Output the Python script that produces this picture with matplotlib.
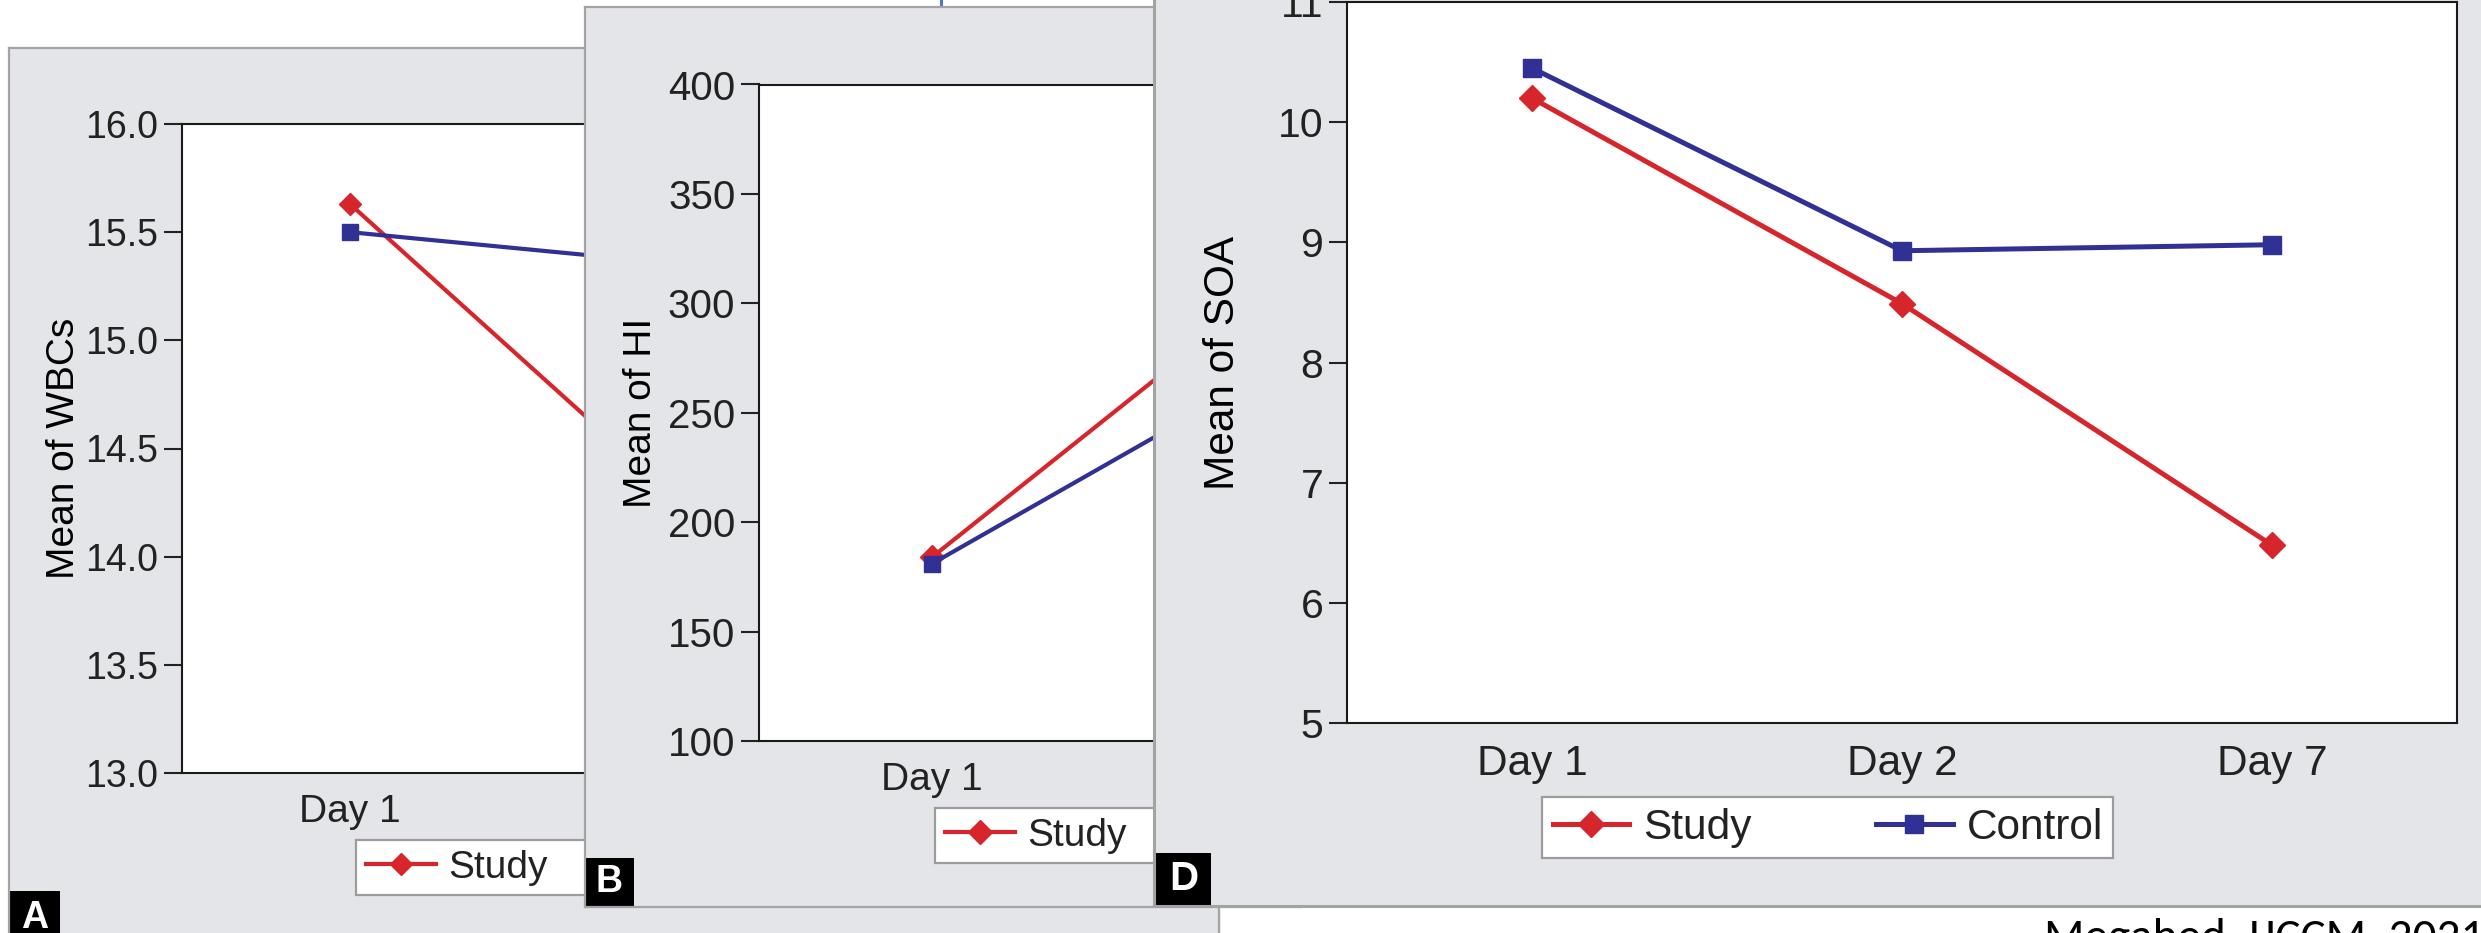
import matplotlib
matplotlib.use("Agg")
from matplotlib import pyplot as plt
from matplotlib import font_manager
from matplotlib.patches import Rectangle
from matplotlib.lines import Line2D

# dane (Day 7 w panelach A i B jest zasłonięty, wartości szacunkowe)
days = ["Day 1", "Day 2", "Day 7"]
wbc_study = [15.63, 14.23, 13.90]
wbc_control = [15.50, 15.35, 15.20]
hi_study = [184, 310, 285]
hi_control = [181, 271, 262]
soa_study = [10.20, 8.49, 6.48]
soa_control = [10.45, 8.93, 8.98]
series_names = ["Study", "Control"]
caption = "Megahed, IJCCM, 2021"

W, H = 2481, 933
RED = "#d7262b"
BLUE = "#303095"
PANEL = "#e4e5e8"
EDGE = "#a3a3a3"
INK = "#222222"

plt.rcParams["font.family"] = ["Liberation Sans", "DejaVu Sans"]
plt.rcParams["text.color"] = INK

names = {f.name for f in font_manager.fontManager.ttflist}
cap_font = "Carlito" if "Carlito" in names else "Lato"


def box(x0, y0, x1, y1):
    # piksele (od góry) -> współrzędne figury
    return [x0 / W, 1 - y1 / H, (x1 - x0) / W, (y1 - y0) / H]


def panel_bg(fig, x0, y0, x1, y1, z, lw=1.6):
    bg = fig.add_axes(box(x0, y0, x1, y1))
    bg.set_facecolor(PANEL)
    bg.set_xticks([])
    bg.set_yticks([])
    for s in bg.spines.values():
        s.set_color(EDGE)
        s.set_linewidth(lw)
    bg.set_zorder(z)
    return bg


def tag(fig, bg, letter, x0, y0, x1, y1, fs):
    r = Rectangle((x0 / W, 1 - y1 / H), (x1 - x0) / W, (y1 - y0) / H,
                  transform=fig.transFigure, facecolor="black", edgecolor="none", clip_on=False)
    bg.add_artist(r)
    bg.text((x0 + x1) / 2 / W, 1 - (y0 + y1) / 2 / H, letter, transform=fig.transFigure,
            color="white", fontweight="bold", fontsize=fs, ha="center", va="center", clip_on=False)


def line_plot(fig, rect, z, study, control, ylim, yticks, yfmt, ylabel, label_x,
              fs_tick, fs_lab, lw, ms, leg_xy):
    ax = fig.add_axes(box(*rect))
    ax.set_zorder(z)
    x = [0.5, 1.5, 2.5]
    ax.plot(x, study, color=RED, lw=lw, marker="D", ms=ms * 0.98, label=series_names[0])
    ax.plot(x, control, color=BLUE, lw=lw, marker="s", ms=ms, label=series_names[1])
    ax.set_xlim(0, 3)
    ax.set_ylim(*ylim)
    ax.set_xticks(x)
    ax.set_xticklabels(days)
    ax.set_yticks(yticks)
    ax.set_yticklabels([yfmt.format(v) for v in yticks])
    ax.tick_params(axis="x", length=0, pad=15, labelsize=fs_lab, colors=INK)
    ax.tick_params(axis="y", length=13, width=1.5, pad=4, labelsize=fs_tick,
                   direction="out", colors=INK)
    for s in ax.spines.values():
        s.set_color("#1a1a1a")
        s.set_linewidth(1.5)
    ax.set_ylabel(ylabel, fontsize=fs_lab)
    ax.yaxis.label.set_va("center")
    x0, y0, x1, y1 = rect
    ax.yaxis.set_label_coords((label_x - x0) / (x1 - x0), 0.5)
    ax.legend(loc="upper left", bbox_to_anchor=(leg_xy[0] / W, 1 - leg_xy[1] / H),
              bbox_transform=fig.transFigure, ncol=2, fontsize=fs_lab, frameon=True,
              fancybox=False, edgecolor="#9c9c9c", framealpha=1, borderaxespad=0,
              borderpad=0.25, handletextpad=0.33, columnspacing=2.95, handlelength=1.8)
    ax.get_legend().get_frame().set_linewidth(1.6)
    return ax


fig = plt.figure(figsize=(W / 100, H / 100), dpi=100)

# panel C (prawie całkowicie zasłonięty)
panel_bg(fig, 300, 912, 1219, 1000, 1)

# panel A
bgA = panel_bg(fig, 9, 48, 1219, 1000, 2)
tag(fig, bgA, "A", 10, 891, 60, 945, 27)
line_plot(fig, (182, 124, 1190, 773), 3, wbc_study, wbc_control, (13, 16),
          [13.0, 13.5, 14.0, 14.5, 15.0, 15.5, 16.0], "{:.1f}", "Mean of WBCs", 64,
          27, 28, 3.0, 11.5, (356, 840))

# panel B
bgB = panel_bg(fig, 585, 7, 1300, 907, 4)
tag(fig, bgB, "B", 585, 858, 634, 906, 27)
line_plot(fig, (759, 84.5, 1797, 741), 5, hi_study, hi_control, (100, 400),
          [100, 150, 200, 250, 300, 350, 400], "{:.0f}", "Mean of HI", 641,
          29, 28, 3.0, 12, (935, 808))

# panel D
bgD = panel_bg(fig, 1154, -30, 2520, 906, 6, lw=2.2)
tag(fig, bgD, "D", 1156, 853, 1211, 905, 29)
line_plot(fig, (1347, 2, 2457, 723), 7, soa_study, soa_control, (5, 11),
          [5, 6, 7, 8, 9, 10, 11], "{:.0f}", "Mean of SOA", 1223,
          29.5, 30.5, 3.6, 13, (1542, 797))

# obcięty podpis i fragment niebieskiego tekstu u góry
fig.text(2044 / W, 1 - 951 / H, caption, fontsize=34, family=cap_font,
         color="black", va="baseline", ha="left")
fig.add_artist(Line2D([940.5 / W, 940.5 / W], [1, 1 - 4.5 / H], transform=fig.transFigure,
                      color="#4a78d0", lw=2.2))

fig.savefig("out.png", dpi=100, facecolor="white")
